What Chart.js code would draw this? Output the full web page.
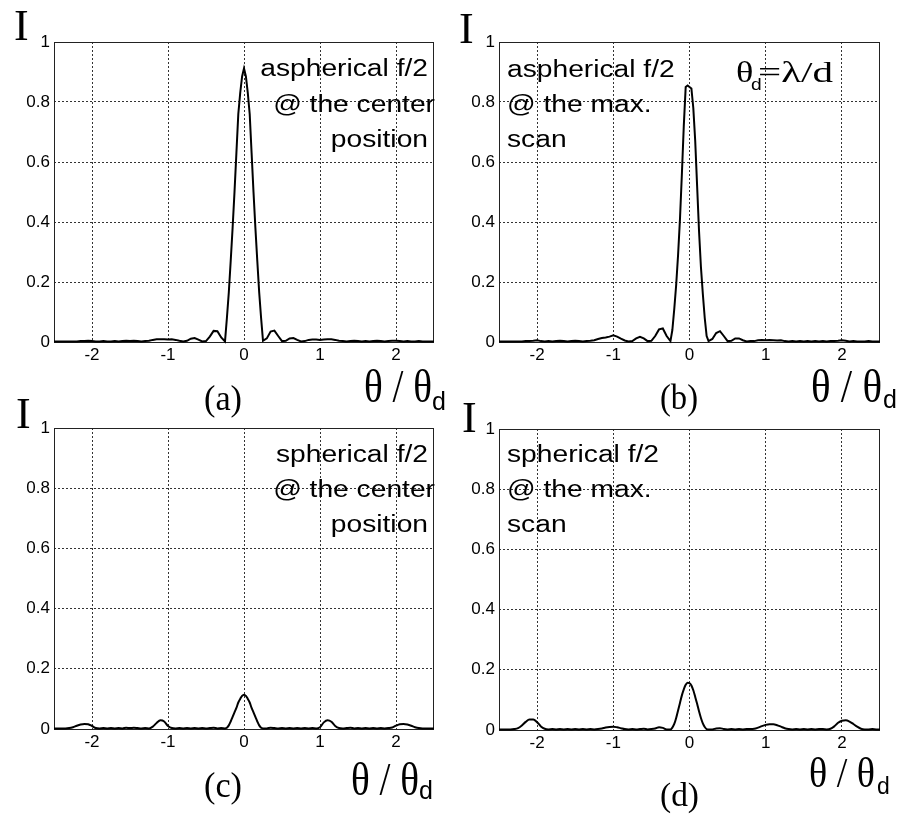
<!DOCTYPE html>
<html>
<head>
<meta charset="utf-8">
<script src="https://cdn.jsdelivr.net/npm/chart.js@4.4.1/dist/chart.umd.min.js"></script>
<style>
html,body{margin:0;padding:0;background:#fff;}
#wrap{position:relative;width:903px;height:814px;overflow:hidden;background:#fff;}
canvas{position:absolute;left:0;top:0;}
</style>
</head>
<body>
<div id="wrap">
<canvas id="pa" width="903" height="814"></canvas>
<canvas id="pb" width="903" height="814"></canvas>
<canvas id="pc" width="903" height="814"></canvas>
<canvas id="pd" width="903" height="814"></canvas>
</div>
<script>
// ---- data (θ/θd sample positions and normalised intensity I) ----
const thetaGrid = [
 -2.5,-2.45,-2.4,-2.35,-2.3,-2.25,-2.2,-2.15,-2.1,-2.05,
 -2,-1.95,-1.9,-1.85,-1.8,-1.75,-1.7,-1.65,-1.6,-1.55,
 -1.5,-1.45,-1.4,-1.35,-1.3,-1.25,-1.2,-1.15,-1.1,-1.05,
 -1,-0.95,-0.9,-0.85,-0.8,-0.75,-0.7,-0.65,-0.6,-0.55,
 -0.5,-0.45,-0.4,-0.35,-0.3,
 -0.25,-0.225,-0.2,-0.175,-0.15,-0.125,-0.1,-0.075,-0.05,-0.025,0,0.025,0.05,0.075,0.1,0.125,0.15,0.175,0.2,0.225,0.25,
 0.3,0.35,0.4,0.45,0.5,0.55,0.6,0.65,0.7,0.75,
 0.8,0.85,0.9,0.95,1,1.05,1.1,1.15,1.2,1.25,
 1.3,1.35,1.4,1.45,1.5,1.55,1.6,1.65,1.7,1.75,
 1.8,1.85,1.9,1.95,2,2.05,2.1,2.15,2.2,2.25,
 2.3,2.35,2.4,2.45,2.5];

const xTicks = [-2,-1,0,1,2];
const yTicks = [0,0.2,0.4,0.6,0.8,1];

// (a) aspherical f/2 @ the center position
const asphericalCenter = [
 .002,.002,.002,.002,.002, .002,.002,.003,.003,.004,
 .003,.002,.002,.003,.002, .002,.003,.002,.003,.004,
 .003,.004,.003,.002,.003, .004,.007,.009,.009,.009,
 .008,.009,.007,.004,.002, .004,.011,.013,.008,.002,
 .003,.018,.037,.036,.015,
 .002,.08,.165,.27,.38,.5,.63,.76,.83,.885,.912,.885,.83,.76,.63,.5,.38,.27,.165,.08,.004,
 .012,.035,.038,.02,.003, .004,.012,.013,.007,.002,
 .003,.007,.008,.008,.007, .008,.009,.009,.007,.004,
 .003,.002,.003,.004,.003, .002,.003,.002,.003,.004,
 .003,.002,.003,.004,.004, .003,.002,.003,.002,.002,
 .003,.002,.002,.002,.002];

// (b) aspherical f/2 @ the max. scan
const asphericalMaxScan = [
 .002,.002,.002,.002,.002, .002,.002,.003,.003,.004,
 .006,.003,.002,.003,.002, .003,.004,.003,.002,.003,
 .004,.003,.002,.003,.004, .006,.01,.013,.015,.018,
 .022,.018,.011,.005,.002, .003,.012,.017,.012,.003,
 .004,.02,.042,.045,.02,
 .003,.04,.11,.19,.29,.41,.56,.72,.85,.855,.85,.845,.78,.67,.52,.37,.25,.16,.08,.02,.003,
 .01,.03,.036,.02,.003, .004,.012,.012,.006,.002,
 .003,.003,.006,.007,.006, .007,.006,.005,.006,.003,
 .002,.003,.002,.003,.002, .003,.002,.003,.002,.003,
 .002,.003,.003,.004,.006, .004,.002,.003,.002,.002,
 .002,.003,.002,.002,.002];

// (c) spherical f/2 @ the center position
const sphericalCenter = [
 .002,.002,.002,.002,.003, .006,.011,.015,.017,.016,
 .01,.003,.002,.003,.002, .003,.002,.003,.002,.004,
 .003,.004,.003,.002,.003, .002,.008,.02,.029,.025,
 .01,.003,.002,.003,.002, .003,.002,.003,.002,.003,
 .002,.003,.004,.002,.003,
 .002,.004,.012,.025,.04,.055,.07,.088,.1,.11,.114,.11,.1,.088,.07,.055,.04,.025,.012,.004,.002,
 .002,.004,.003,.002,.003, .002,.003,.002,.003,.002,
 .003,.002,.003,.002,.006, .022,.029,.024,.01,.003,
 .002,.003,.004,.002,.003, .002,.003,.002,.003,.002,
 .003,.002,.003,.005,.011, .016,.017,.015,.011,.006,
 .003,.002,.002,.002,.002];

// (d) spherical f/2 @ the max. scan
const sphericalMaxScan = [
 .002,.002,.002,.002,.003, .006,.015,.027,.035,.035,
 .026,.012,.004,.002,.003, .002,.003,.002,.003,.002,
 .003,.002,.003,.002,.003, .002,.003,.005,.008,.01,
 .011,.009,.006,.003,.002, .003,.002,.003,.004,.002,
 .003,.005,.009,.007,.002,
 .002,.008,.02,.04,.065,.09,.115,.135,.15,.157,.156,.148,.132,.11,.087,.062,.04,.022,.01,.003,.002,
 .002,.005,.006,.003,.002, .003,.002,.003,.002,.003,
 .003,.004,.008,.013,.017, .019,.019,.016,.011,.006,
 .003,.002,.003,.002,.003, .002,.003,.002,.003,.003,
 .002,.004,.012,.024,.031, .032,.028,.02,.011,.004,
 .002,.002,.003,.002,.002];

// ---- styling helpers ----
const SANS = "'Liberation Sans', Arial, Helvetica, sans-serif";
const SERIF = "'Liberation Serif', 'Times New Roman', Times, serif";
const W = 903, H = 814;
const Y_AXIS_W = 40, X_AXIS_H = 30;

function drawText(ctx, t) {
  ctx.save();
  ctx.font = t.font;
  ctx.fillStyle = '#000';
  ctx.textBaseline = 'alphabetic';
  ctx.textAlign = 'left';
  const m = ctx.measureText(t.text).width;
  const sx = t.w ? t.w / m : (t.sx || 1);
  const x0 = t.align === 'right' ? t.x - m * sx : t.x;
  ctx.translate(x0, t.y);
  ctx.scale(sx, 1);
  ctx.fillText(t.text, 0, 0);
  ctx.restore();
}

const textPlugin = {
  id: 'panelText',
  afterDraw(chart, args, opts) {
    (opts.items || []).forEach(t => drawText(chart.ctx, t));
  }
};
const framePlugin = {
  id: 'panelFrame',
  beforeDatasetsDraw(chart) {
    const a = chart.chartArea, ctx = chart.ctx;
    ctx.save();
    ctx.strokeStyle = '#222';
    ctx.lineWidth = 1;
    ctx.setLineDash([]);
    ctx.strokeRect(Math.round(a.left) + 0.5, Math.round(a.top) + 0.5,
                   Math.round(a.right - a.left) - 1, Math.round(a.bottom - a.top));
    ctx.restore();
  }
};

function makePanel(id, values, box, items, smooth) {
  const tickFont = {family: SANS, size: 17};
  return new Chart(document.getElementById(id), {
    type: 'line',
    data: {
      datasets: [{
        data: thetaGrid.map((x, i) => ({x: x, y: values[i]})),
        borderColor: '#000',
        borderWidth: 2,
        pointRadius: 0,
        fill: false,
        tension: 0,
        cubicInterpolationMode: smooth ? 'monotone' : 'default',
        clip: 6
      }]
    },
    options: {
      responsive: false,
      animation: false,
      events: [],
      layout: {
        padding: {
          left: box.left - Y_AXIS_W,
          top: box.top,
          right: W - box.right,
          bottom: H - box.bottom - X_AXIS_H
        }
      },
      plugins: {
        legend: {display: false},
        title: {display: false},
        tooltip: {enabled: false},
        panelText: {items: items}
      },
      scales: {
        x: {
          type: 'linear',
          min: -2.5, max: 2.5,
          afterBuildTicks: s => { s.ticks = xTicks.map(v => ({value: v})); },
          afterFit: s => { s.height = X_AXIS_H; },
          ticks: {font: tickFont, color: '#000', padding: 3, autoSkip: false, maxRotation: 0,
                  callback: v => String(v)},
          grid: {color: '#333', lineWidth: 1, drawTicks: false},
          border: {display: false, dash: [2, 2]}
        },
        y: {
          type: 'linear',
          min: 0, max: 1,
          afterBuildTicks: s => { s.ticks = yTicks.map(v => ({value: v})); },
          afterFit: s => { s.width = Y_AXIS_W; },
          ticks: {font: tickFont, color: '#000', padding: 4, autoSkip: false,
                  callback: v => String(v)},
          grid: {color: '#333', lineWidth: 1, drawTicks: false},
          border: {display: false, dash: [2, 2]}
        }
      }
    },
    plugins: [framePlugin, textPlugin]
  });
}

const ANN = "23.5px " + SANS;
const SX = 1.2;

makePanel('pa', asphericalCenter, {left: 54, top: 42, right: 434, bottom: 342}, [
  {text: 'aspherical f/2', font: ANN, sx: SX, align: 'right', x: 428, y: 76},
  {text: '@ the center', font: ANN, sx: SX, align: 'right', x: 435, y: 112},
  {text: 'position', font: ANN, sx: SX, align: 'right', x: 428, y: 147},
  {text: 'I', font: '44px ' + SERIF, x: 14, y: 40},
  {text: '(a)', font: '36px ' + SERIF, x: 204, y: 410, w: 38},
  {text: 'θ / θ', font: '46px ' + SERIF, x: 364, y: 402, w: 68},
  {text: 'd', font: '25px ' + SANS, x: 432, y: 410}
], false);

makePanel('pb', asphericalMaxScan, {left: 499, top: 42, right: 880, bottom: 342}, [
  {text: 'aspherical f/2', font: ANN, sx: SX, x: 507, y: 77},
  {text: '@ the max.', font: ANN, sx: SX, x: 507, y: 112},
  {text: 'scan', font: ANN, sx: SX, x: 507, y: 147},
  {text: 'θ', font: '29px ' + SERIF, sx: 1.25, x: 736, y: 82},
  {text: 'd', font: '16px ' + SANS, sx: 1.2, x: 751, y: 90},
  {text: '=λ/d', font: '29px ' + SERIF, x: 758, y: 82, w: 75},
  {text: 'I', font: '44px ' + SERIF, x: 459, y: 43},
  {text: '(b)', font: '36px ' + SERIF, x: 660, y: 409, w: 38},
  {text: 'θ / θ', font: '46px ' + SERIF, x: 811, y: 402, w: 71},
  {text: 'd', font: '25px ' + SANS, x: 883, y: 408}
], false);

makePanel('pc', sphericalCenter, {left: 54, top: 428, right: 434, bottom: 729}, [
  {text: 'spherical f/2', font: ANN, sx: SX, align: 'right', x: 428, y: 462},
  {text: '@ the center', font: ANN, sx: SX, align: 'right', x: 435, y: 497},
  {text: 'position', font: ANN, sx: SX, align: 'right', x: 428, y: 532},
  {text: 'I', font: '44px ' + SERIF, x: 16, y: 428},
  {text: '(c)', font: '36px ' + SERIF, x: 204, y: 797, w: 38},
  {text: 'θ / θ', font: '46px ' + SERIF, x: 351, y: 795, w: 68},
  {text: 'd', font: '25px ' + SANS, x: 419, y: 799}
], true);

makePanel('pd', sphericalMaxScan, {left: 499, top: 429, right: 880, bottom: 730}, [
  {text: 'spherical f/2', font: ANN, sx: SX, x: 507, y: 462},
  {text: '@ the max.', font: ANN, sx: SX, x: 507, y: 497},
  {text: 'scan', font: ANN, sx: SX, x: 507, y: 532},
  {text: 'I', font: '44px ' + SERIF, x: 462, y: 432},
  {text: '(d)', font: '34px ' + SERIF, x: 660, y: 806, w: 39},
  {text: 'θ / θ', font: '42px ' + SERIF, x: 809, y: 787, w: 66},
  {text: 'd', font: '23px ' + SANS, x: 877, y: 794}
], true);
</script>
</body>
</html>
